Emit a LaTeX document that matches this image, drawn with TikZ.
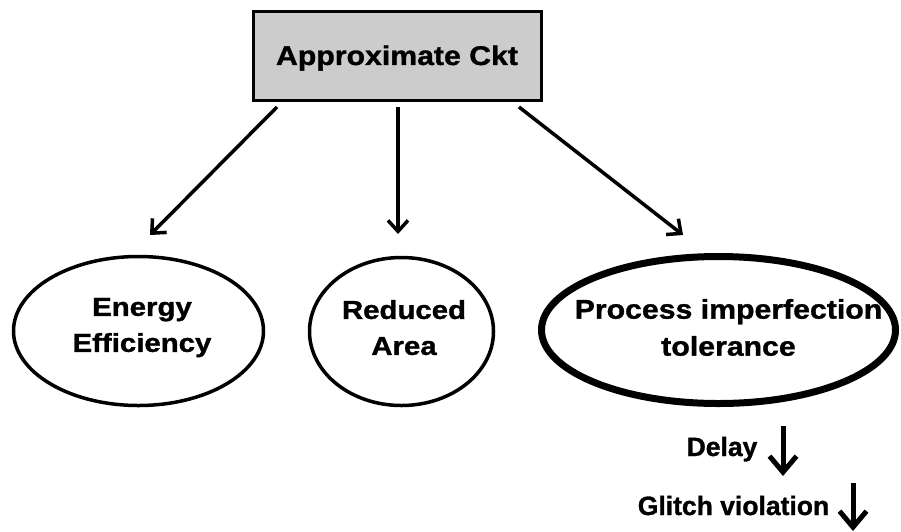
\documentclass[tikz,border=0pt]{standalone}
\usepackage{fontspec}
\setmainfont{Liberation Sans}[FakeStretch=1.13, BoldFeatures={FakeBold=1.2}]
\newfontfamily\widesans{Liberation Sans}[FakeStretch=1.12, BoldFeatures={FakeBold=1.2}]
\newfontfamily\plainsans{Liberation Sans}[BoldFeatures={FakeBold=1.2}]
\usetikzlibrary{arrows.meta,shapes.geometric}

\begin{document}
\begin{tikzpicture}[x=1pt,y=-1pt,
  every node/.style={align=center},
  label/.style={font=\bfseries\fontsize{26}{36}\selectfont, inner sep=0pt},
  biglabel/.style={font=\widesans\bfseries\fontsize{27}{37}\selectfont, inner sep=0pt},
  topbox/.style={draw, line width=3.5pt, fill=black!20, minimum width=288pt,
    minimum height=89pt, inner sep=0pt},
  goal/.style={draw, ellipse, line width=3.5pt, inner sep=0pt},
  link/.style={line width=3.5pt, -{Straight Barb[length=11pt,width=20pt]}},
  trend/.style={line width=5pt, -{Straight Barb[length=16pt,width=27pt]}},
  note/.style={font=\plainsans\bfseries\fontsize{26.5}{30}\selectfont,
    anchor=base, inner sep=0pt}
]
\useasboundingbox (0,0) rectangle (901,531);

% root block
\node[topbox] (ckt) at (397.5,56) {};
\node[biglabel] (ckttext) at (397,58) {Approximate Ckt};

% three outcomes
\node[goal, minimum width=250pt, minimum height=149pt] (energy) at (138.5,331) {};
\node[label] (energytext) at (142,327.6) {Energy\\Efficiency};

\node[goal, minimum width=184pt, minimum height=148pt] (area) at (401.5,331.5) {};
\node[label] (areatext) at (404,327.6) {Reduced\\Area};

\node[goal, line width=7pt, minimum width=354pt, minimum height=147pt] (tol) at (718.5,330) {};
\node[biglabel] (toltext) at (728.5,327.5) {Process imperfection\\tolerance};

% arrow end points
\coordinate (s1) at (277,107);
\coordinate (e1) at (150,235);
\coordinate (s2) at (398,107);
\coordinate (e2) at (398,234);
\coordinate (s3) at (519,107);
\coordinate (e3) at (683,235);

\draw[link] (s1) -- (e1);
\draw[link] (s2) -- (e2);
\draw[link] (s3) -- (e3);

% effects on the circuit
\node[note] (delay) at (722,456) {Delay};
\node[note] (glitch) at (733.5,515) {Glitch violation};
\coordinate (d1) at (783,426);
\coordinate (d2) at (783,476);
\coordinate (g1) at (853,483);
\coordinate (g2) at (853,531);
\draw[trend] (d1) -- (d2);
\draw[trend] (g1) -- (g2);
\end{tikzpicture}
\end{document}
